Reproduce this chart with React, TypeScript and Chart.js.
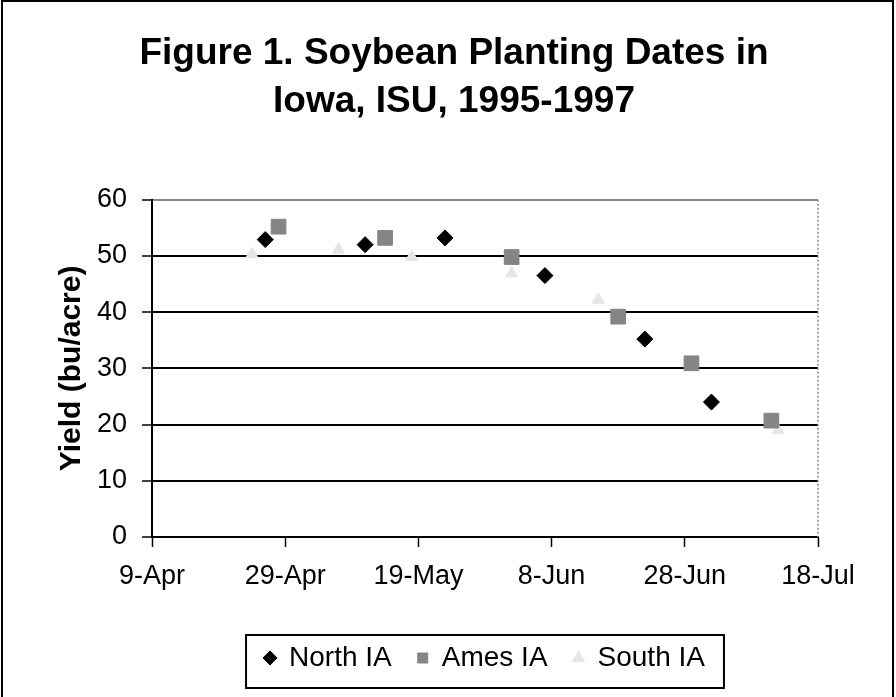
import React, { useEffect, useRef } from 'react';
import { Chart, registerables } from 'chart.js';

Chart.register(...registerables);

const seriesNames = ['North IA', 'Ames IA', 'South IA'];

const northDates = ['26-Apr', '11-May', '23-May', '7-Jun', '22-Jun', '2-Jul'];
const northYield = [52.9, 52.0, 53.2, 46.5, 35.2, 24.0];

const amesDates = ['28-Apr', '14-May', '2-Jun', '18-Jun', '29-Jun', '11-Jul'];
const amesYield = [55.2, 53.2, 49.8, 39.2, 30.9, 20.7];

const southDates = ['24-Apr', '7-May', '18-May', '2-Jun', '15-Jun', '12-Jul'];
const southYield = [50.3, 51.1, 49.8, 46.9, 42.2, 19.0];

const xTickLabels = ['9-Apr', '29-Apr', '19-May', '8-Jun', '28-Jun', '18-Jul'];
const yMin = 0;
const yMax = 60;
const yStep = 10;

const titleLines = ['Figure 1. Soybean Planting Dates in', 'Iowa, ISU, 1995-1997'];
const yTitle = 'Yield (bu/acre)';

const monthStart: Record<string, number> = { Apr: 90, May: 120, Jun: 151, Jul: 181 };
const dayOfYear = (s: string) => {
  const [d, m] = s.split('-');
  return monthStart[m] + Number(d);
};

const toPoints = (dates: string[], vals: number[]) =>
  dates.map((d, i) => ({ x: dayOfYear(d), y: vals[i] }));

const FONT = '"Liberation Sans", Arial, Helvetica, sans-serif';

export default function App() {
  const ref = useRef<HTMLCanvasElement | null>(null);

  useEffect(() => {
    if (!ref.current) return;
    Chart.defaults.font.family = FONT;

    const decor = {
      id: 'decor',
      afterDraw(chart: any) {
        const ctx = chart.ctx;
        const ca = chart.chartArea;
        ctx.save();
        // right plot border (dotted gray)
        ctx.strokeStyle = '#8a8a8a';
        ctx.lineWidth = 1.5;
        ctx.setLineDash([2, 2]);
        ctx.beginPath();
        ctx.moveTo(ca.right, ca.top);
        ctx.lineTo(ca.right, ca.bottom);
        ctx.stroke();
        ctx.setLineDash([]);
        // legend box
        const hb = chart.legend && chart.legend.legendHitBoxes;
        if (hb && hb.length) {
          const l = Math.min(...hb.map((h: any) => h.left)) - 19;
          const r = Math.max(...hb.map((h: any) => h.left + h.width)) + 19;
          const cy = hb[0].top + hb[0].height / 2;
          ctx.strokeStyle = '#000';
          ctx.lineWidth = 2;
          ctx.strokeRect(l, cy - 23, r - l, 53);
        }
        // outer frame
        ctx.strokeStyle = '#000';
        ctx.lineWidth = 2;
        ctx.strokeRect(2, 1, 891, 710);
        ctx.restore();
      },
    };

    const chart = new Chart(ref.current, {
      type: 'scatter',
      data: {
        datasets: [
          {
            label: seriesNames[0],
            data: toPoints(northDates, northYield),
            pointStyle: 'rectRot',
            pointRadius: 8,
            backgroundColor: '#000',
            borderColor: '#000',
            borderWidth: 1,
          },
          {
            label: seriesNames[1],
            data: toPoints(amesDates, amesYield),
            pointStyle: 'rect',
            pointRadius: 10.4,
            backgroundColor: '#858585',
            borderColor: '#858585',
            borderWidth: 1,
          },
          {
            label: seriesNames[2],
            data: toPoints(southDates, southYield),
            pointStyle: 'triangle',
            pointRadius: 7,
            backgroundColor: '#e6e6e6',
            borderColor: '#e6e6e6',
            borderWidth: 1,
          },
        ],
      },
      options: {
        responsive: false,
        animation: false,
        layout: { padding: { left: 12, right: 0, top: 0, bottom: 15 } },
        plugins: {
          title: {
            display: true,
            text: titleLines,
            color: '#000',
            font: { size: 37, weight: 'bold', lineHeight: 1.32 },
            padding: { top: 29, bottom: 73 },
          },
          legend: {
            position: 'bottom',
            fullSize: false,
            labels: {
              usePointStyle: true,
              boxWidth: 10,
              boxHeight: 10,
              color: '#000',
              font: { size: 28 },
              padding: 26,
            },
          },
          tooltip: { enabled: false },
        },
        scales: {
          x: {
            type: 'linear',
            min: dayOfYear(xTickLabels[0]),
            max: dayOfYear(xTickLabels[xTickLabels.length - 1]),
            ticks: {
              stepSize: 20,
              callback: (_v: any, i: number) => xTickLabels[i],
              color: '#000',
              font: { size: 27 },
              padding: 13,
              maxRotation: 0,
              autoSkip: false,
            },
            grid: {
              drawOnChartArea: false,
              drawTicks: true,
              tickLength: 10,
              color: '#000',
              tickWidth: 1.5,
            },
            border: { display: true, color: '#000', width: 2 },
            afterFit: (s: any) => {
              s.height = 81;
            },
          },
          y: {
            min: yMin,
            max: yMax,
            ticks: { stepSize: yStep, color: '#000', font: { size: 27 }, padding: 15 },
            grid: {
              color: (c: any) => (c.tick && c.tick.value === yMax ? '#8a8a8a' : '#000'),
              lineWidth: 2,
              tickLength: 10,
              tickColor: '#000',
              tickWidth: 1.5,
            },
            border: { display: true, color: '#000', width: 2 },
            title: {
              display: true,
              text: yTitle,
              color: '#000',
              font: { size: 30, weight: 'bold' },
              padding: { top: 42, bottom: 0 },
            },
            afterFit: (s: any) => {
              s.width = 140;
            },
          },
          yr: {
            type: 'linear',
            position: 'right',
            min: yMin,
            max: yMax,
            ticks: { display: false },
            grid: { display: false, drawTicks: false },
            border: { display: false },
            afterFit: (s: any) => {
              s.width = 78;
            },
          },
        },
      },
      plugins: [decor],
    } as any);

    return () => chart.destroy();
  }, []);

  return (
    <div style={{ position: 'absolute', left: 0, top: 0, width: 896, height: 697, background: '#fff' }}>
      <canvas ref={ref} width={896} height={697} style={{ display: 'block' }} />
    </div>
  );
}
